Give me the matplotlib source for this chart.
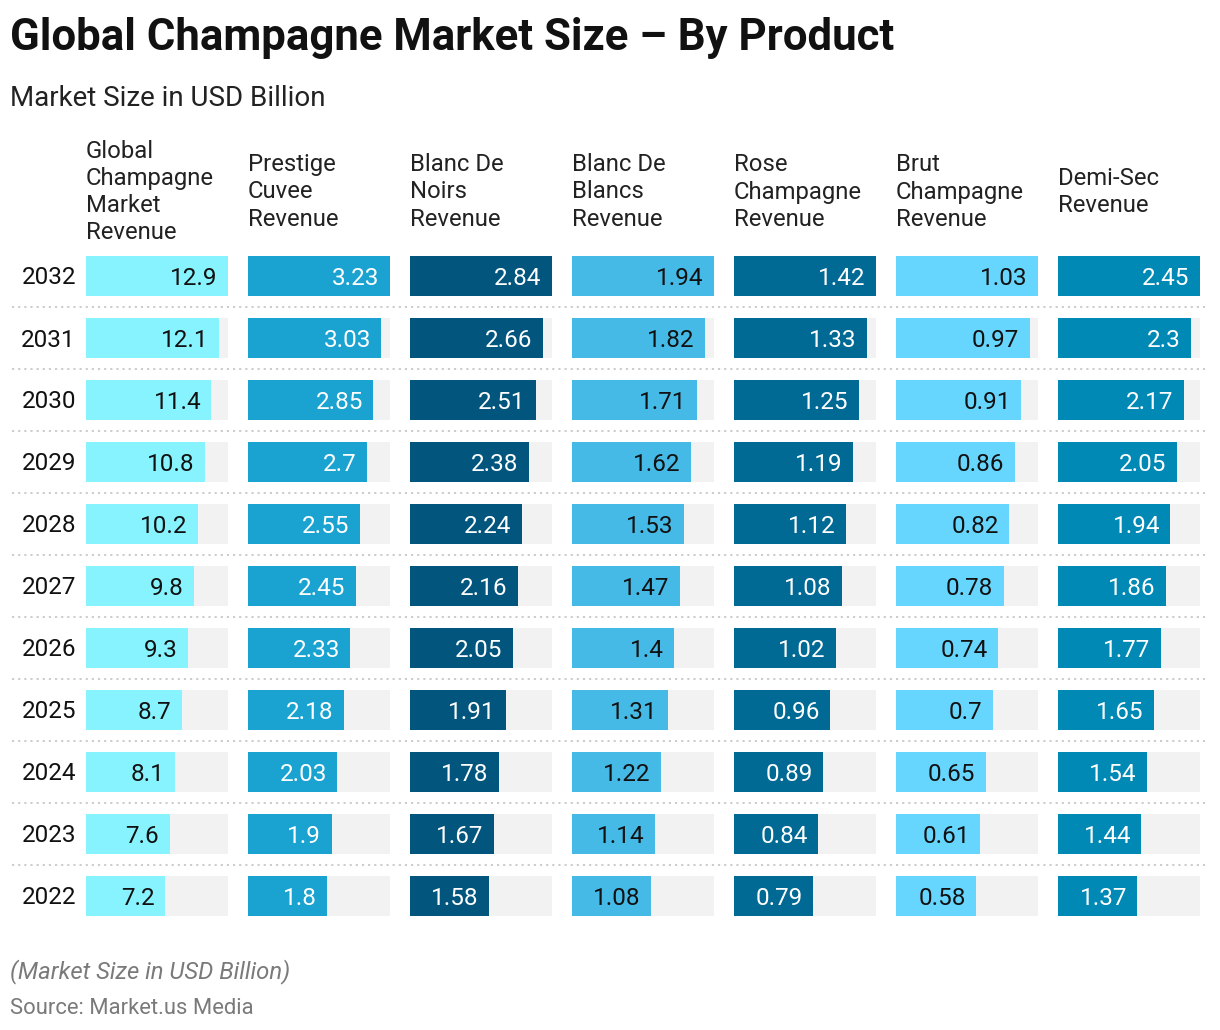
import matplotlib.pyplot as plt

plt.rcParams['font.family'] = ['Roboto', 'DejaVu Sans']

# data
years = ['2032', '2031', '2030', '2029', '2028', '2027', '2026', '2025', '2024', '2023', '2022']
headers = ['Global\nChampagne\nMarket\nRevenue', 'Prestige\nCuvee\nRevenue', 'Blanc De\nNoirs\nRevenue',
           'Blanc De\nBlancs\nRevenue', 'Rose\nChampagne\nRevenue', 'Brut\nChampagne\nRevenue',
           'Demi-Sec\nRevenue']
global_rev = [12.9, 12.1, 11.4, 10.8, 10.2, 9.8, 9.3, 8.7, 8.1, 7.6, 7.2]
prestige_rev = [3.23, 3.03, 2.85, 2.7, 2.55, 2.45, 2.33, 2.18, 2.03, 1.9, 1.8]
noirs_rev = [2.84, 2.66, 2.51, 2.38, 2.24, 2.16, 2.05, 1.91, 1.78, 1.67, 1.58]
blancs_rev = [1.94, 1.82, 1.71, 1.62, 1.53, 1.47, 1.4, 1.31, 1.22, 1.14, 1.08]
rose_rev = [1.42, 1.33, 1.25, 1.19, 1.12, 1.08, 1.02, 0.96, 0.89, 0.84, 0.79]
brut_rev = [1.03, 0.97, 0.91, 0.86, 0.82, 0.78, 0.74, 0.7, 0.65, 0.61, 0.58]
demisec_rev = [2.45, 2.3, 2.17, 2.05, 1.94, 1.86, 1.77, 1.65, 1.54, 1.44, 1.37]
columns = [global_rev, prestige_rev, noirs_rev, blancs_rev, rose_rev, brut_rev, demisec_rev]

colors = ['#87F3FF', '#1AA3D0', '#02567E', '#45BAE6', '#006994', '#66D6FF', '#0089B5']
text_colors = ['#111111', 'white', 'white', '#111111', 'white', '#111111', 'white']

W, H = 1220, 1030
fig = plt.figure(figsize=(W / 100, H / 100), dpi=100)

def fx(px):
    return px / W

def fy(py):
    return 1 - py / H

# title block
fig.text(fx(10), fy(38), 'Global Champagne Market Size \u2013 By Product', fontsize=31.5,
         fontweight='bold', color='#111111', va='center')
fig.text(fx(10), fy(99), 'Market Size in USD Billion', fontsize=20, color='#222222', va='center')

# background axes for row separators
bg = fig.add_axes([0, 0, 1, 1], zorder=0)
bg.set_xlim(0, W)
bg.set_ylim(H, 0)
bg.axis('off')
for k in range(len(years) - 1):
    yy = 307 + 62 * k
    bg.plot([12, 1208], [yy, yy], color='#c8c8c8', lw=1.3, ls=(0, (1.2, 2.2)))

# year labels
for i, yr in enumerate(years):
    fig.text(fx(76), fy(278 + 62 * i), yr, fontsize=17.5, ha='right', va='center', color='#111111')

col_left = 86
col_step = 162
col_w = 142
top = 245
n = len(years)
for j, vals in enumerate(columns):
    x0 = col_left + col_step * j
    ax = fig.add_axes([fx(x0), fy(top + 62 * n), fx(col_w), (62 * n) / H], zorder=1)
    vmax = max(vals)
    ax.set_xlim(0, vmax)
    ax.set_ylim(n - 0.5, -0.5)
    ax.axis('off')
    ax.barh(range(n), [vmax] * n, height=40 / 62, color='#F2F2F2')
    ax.barh(range(n), vals, height=40 / 62, color=colors[j])
    for i, v in enumerate(vals):
        ax.annotate(f'{v:g}', (v, i), xytext=(-7.5, -1.5), textcoords='offset points',
                    ha='right', va='center', fontsize=17.5, color=text_colors[j])
    fig.text(fx(x0), fy(192), headers[j], fontsize=17.2, ha='left', va='center',
             color='#222222', linespacing=1.23)

# footer
fig.text(fx(10), fy(972), '(Market Size in USD Billion)', fontsize=17.2, style='italic',
         color='#7a7a7a', va='center')
fig.text(fx(10), fy(1008), 'Source: Market.us Media', fontsize=15.8, color='#7a7a7a', va='center')

fig.savefig('out.png', dpi=100)
